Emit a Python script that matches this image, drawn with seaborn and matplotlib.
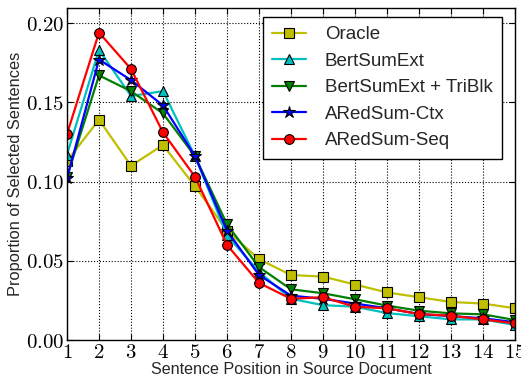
import numpy as np
import pandas as pd
import matplotlib
matplotlib.use("Agg")
import matplotlib.pyplot as plt
import seaborn as sns

positions = list(range(1, 16))

oracle = [0.113, 0.139, 0.110, 0.123, 0.097, 0.069, 0.051, 0.041, 0.040, 0.035, 0.030, 0.027, 0.024, 0.023, 0.020]
bertsumext = [0.117, 0.183, 0.154, 0.157, 0.116, 0.066, 0.043, 0.026, 0.022, 0.021, 0.017, 0.015, 0.013, 0.013, 0.0095]
bertsumext_triblk = [0.103, 0.167, 0.157, 0.143, 0.116, 0.073, 0.046, 0.032, 0.0295, 0.0257, 0.0217, 0.0185, 0.0168, 0.0162, 0.0126]
aredsum_ctx = [0.102, 0.177, 0.164, 0.148, 0.116, 0.069, 0.041, 0.028, 0.026, 0.023, 0.020, 0.0164, 0.0151, 0.0137, 0.0112]
aredsum_seq = [0.130, 0.194, 0.171, 0.131, 0.103, 0.060, 0.036, 0.026, 0.027, 0.021, 0.020, 0.0164, 0.0153, 0.013, 0.0105]

series = [
    ("Oracle", oracle, "#bfbf00", "s"),
    ("BertSumExt", bertsumext, "#00bfbf", "^"),
    ("BertSumExt + TriBlk", bertsumext_triblk, "#007f00", "v"),
    ("ARedSum-Ctx", aredsum_ctx, "#0000ff", "*"),
    ("ARedSum-Seq", aredsum_seq, "#ff0000", "o"),
]

sns.set_style("ticks", {"xtick.direction": "in", "ytick.direction": "in"})
plt.rcParams["font.family"] = ["Liberation Sans", "DejaVu Sans"]
plt.rcParams["mathtext.fontset"] = "cm"

fig = plt.figure(figsize=(5.21, 3.81), dpi=100)
ax = fig.add_axes([0.1286, 0.1076, 0.8599, 0.8714])

for name, vals, color, marker in series:
    df = pd.DataFrame({"pos": positions, "val": vals})
    ms = 9 if marker == "*" else 7
    sns.lineplot(data=df, x="pos", y="val", ax=ax, color=color, marker=marker,
                 markersize=ms, markeredgecolor="black", markeredgewidth=0.8,
                 linewidth=1.6, label=name)

ax.set_xlim(1, 15)
ax.set_ylim(0, 0.2095)
ax.set_xticks(positions)
ax.set_xticklabels([f"${p}$" for p in positions])
yt = [0.0, 0.05, 0.10, 0.15, 0.20]
ax.set_yticks(yt)
ax.set_yticklabels([f"${v:.2f}$" for v in yt])
ax.tick_params(axis="both", which="major", labelsize=15, direction="in",
               length=4, width=0.8, top=True, right=True, pad=2, colors="black")
ax.grid(True, linestyle=":", color="black", linewidth=0.8)
for s in ax.spines.values():
    s.set_color("black")
    s.set_linewidth(1.0)

ax.set_xlabel("Sentence Position in Source Document", fontsize=11.6, labelpad=0)
ax.set_ylabel("Proportion of Selected Sentences", fontsize=11.8, labelpad=2)

leg = ax.legend(loc="upper right", bbox_to_anchor=(0.971, 0.973), borderaxespad=0,
                fontsize=13.5, frameon=True, fancybox=False, framealpha=1,
                edgecolor="black", handlelength=1.8, handletextpad=1.0,
                labelspacing=0.5, borderpad=0.5)
leg.get_frame().set_linewidth(1.0)

fig.savefig("out.png", dpi=100)
